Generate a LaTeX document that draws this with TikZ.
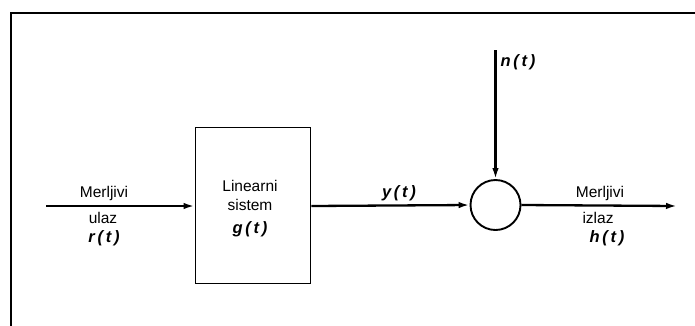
\documentclass[tikz,border=0pt]{standalone}
\usepackage{fontspec}
\setmainfont{Liberation Sans}
\usetikzlibrary{arrows.meta}
\begin{document}
\begin{tikzpicture}[x=1pt,y=-1pt,
  lbl/.style={inner sep=0pt,font=\fontsize{15.5}{18}\selectfont},
  mth/.style={inner sep=0pt,font=\fontsize{16.5}{19}\selectfont\bfseries\itshape},
  sig/.style={line width=2.3pt,-{Latex[length=11pt,width=6.5pt]}},
  blk/.style={draw,line width=1.9pt,minimum width=115pt,minimum height=156pt,inner sep=0pt},
  summ/.style={draw,circle,line width=1.9pt,minimum size=50pt,inner sep=0pt}]
\useasboundingbox (0,0) rectangle (695,325);
% frame
\draw[line width=2pt] (700,12.5) -- (11,12.5) -- (11,330);
% nodes
\node[blk] (sys) at (253,205.5) {};
\node[summ] (sum) at (495.5,205) {};
\coordinate (in) at (46,206);
\coordinate (out) at (677,206);
\coordinate (ntop) at (495.5,50);
% connectors
\draw[sig] (in) -- (sys.west |- in);
\draw[sig] (sys.east |- in) -- (sum.west);
\draw[sig] (sum.east) -- (out);
\draw[sig] (ntop) -- (sum.north);
% labels
\node[lbl] (l1) at (104,193) {Merljivi};
\node[lbl] (l2) at (103,218) {ulaz};
\node[mth] (l3) at (104,238) {r\,(\,t\,)};
\node[lbl] (s1) at (250,186) {Linearni};
\node[lbl] (s2) at (250,205) {sistem};
\node[mth] (s3) at (250,229) {g\,(\,t\,)};
\node[mth] (ly) at (399,193) {y\,(\,t\,)};
\node[mth] (ln) at (518,62) {n\,(\,t\,)};
\node[lbl] (r1) at (600,193) {Merljivi};
\node[lbl] (r2) at (598,218) {izlaz};
\node[mth] (r3) at (607,238) {h\,(\,t\,)};
\end{tikzpicture}
\end{document}
